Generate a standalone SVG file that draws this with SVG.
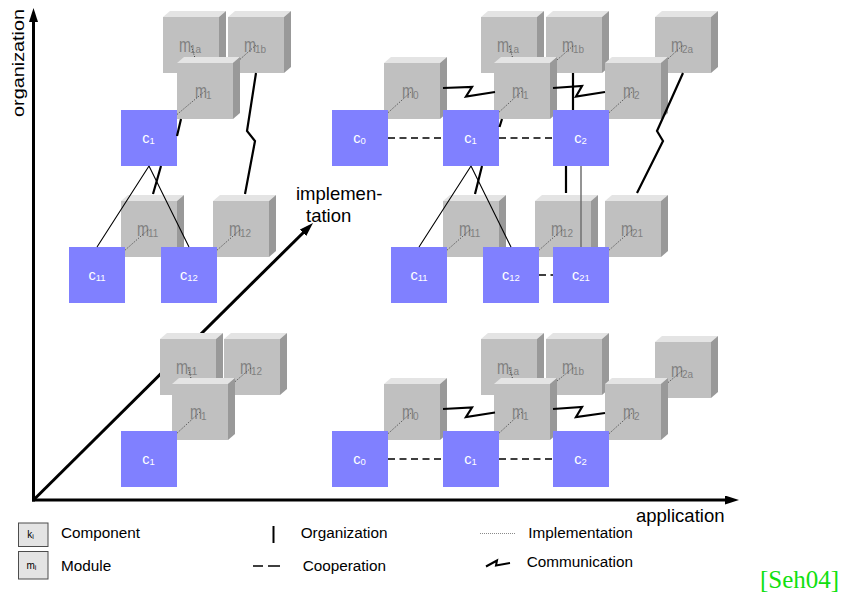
<svg xmlns="http://www.w3.org/2000/svg" xmlns:xlink="http://www.w3.org/1999/xlink" width="841" height="603" viewBox="0 0 841 603">
  <style>
    text { font-family: "Liberation Sans", Arial, Helvetica, sans-serif; }
    .front { fill: #c0c0c0; }
    .top { fill: #e4e4e4; }
    .side { fill: #999999; }
    .comp { fill: #8080ff; }
    .ml { font-size: 14.5px; fill: #808080; }
    .ms { font-size: 10px; fill: #808080; }
    .cl { font-size: 14.5px; fill: #ffffff; }
    .cs { font-size: 9.5px; }
    .axis { stroke: #000; stroke-width: 3; fill: none; }
    .impl { stroke: #404040; stroke-width: 1; stroke-dasharray: 1 1.5; fill: none; }
    .org { stroke: #000; stroke-width: 1.1; fill: none; }
    .org-grey { stroke: #707070; stroke-width: 1.5; fill: none; }
    .coop { stroke: #000; stroke-width: 1.3; stroke-dasharray: 7 4.5; fill: none; }
    .comm { stroke: #000; stroke-width: 2.2; fill: none; stroke-linejoin: miter; stroke-miterlimit: 12; }
    .big { font-size: 18.5px; fill: #000; }
    .leg { font-size: 15.3px; fill: #000; }
    .legbox { fill: #e4e4e4; stroke: #4d4d4d; stroke-width: 1; }
  </style>
  <defs>
    <!-- module cube: front face 56x56 with top and side faces -->
    <g id="cube">
      <polygon class="top" points="0,0 7,-6 63,-6 56,0"/>
      <polygon class="side" points="56,0 63,-6 63,50 56,56"/>
      <rect class="front" width="56" height="56"/>
    </g>
    <!-- component square -->
    <rect id="comp" class="comp" width="56" height="56"/>
    <marker id="arrow" markerUnits="userSpaceOnUse" markerWidth="14" markerHeight="9" refX="3" refY="4.5" orient="auto">
      <path d="M0,0 L14,4.5 L0,9 z" fill="#000"/>
    </marker>
  </defs>

  <rect width="841" height="603" fill="#fff"/>

  <!-- axes -->
  <g id="axes">
    <path class="axis" d="M33.5,501.5 V19" marker-end="url(#arrow)"/>
    <path class="axis" d="M32,500 H728" marker-end="url(#arrow)"/>
    <path class="axis" d="M33.5,500 L305.2,230.7" marker-end="url(#arrow)"/>
    <text transform="translate(24,117) rotate(-90) scale(1.24,1)" style="font-size:16px">organization</text>
    <text class="big" x="296" y="200">implemen-</text>
    <text class="big" x="306" y="222">tation</text>
    <text class="big" x="636" y="522">application</text>
  </g>

  <!-- ===== top left: c1 with children c11, c12 ===== -->
  <g id="tl-m1a" transform="translate(163,17)"><use href="#cube"/><text class="ml" transform="translate(16,35.3) scale(1,1.45)">m</text><text class="ms" x="27" y="36">1a</text></g>
  <g id="tl-m1b" transform="translate(228,17)"><use href="#cube"/><text class="ml" transform="translate(16,35.3) scale(1,1.45)">m</text><text class="ms" x="27" y="36">1b</text></g>
  <g id="tl-m1" transform="translate(177,63)"><use href="#cube"/><text class="ml" transform="translate(18,35.3) scale(1,1.45)">m</text><text class="ms" x="29" y="36">1</text></g>
  <g id="tl-c1" transform="translate(121,110)"><use href="#comp"/><text class="cl" x="27.5" y="32.7" text-anchor="middle">c<tspan class="cs" dy="1.6">1</tspan></text></g>
  <g id="tl-m11" transform="translate(121,201)"><use href="#cube"/><text class="ml" transform="translate(16,35.3) scale(1,1.45)">m</text><text class="ms" x="27" y="36">11</text></g>
  <g id="tl-m12" transform="translate(213,201)"><use href="#cube"/><text class="ml" transform="translate(16,35.3) scale(1,1.45)">m</text><text class="ms" x="27" y="36">12</text></g>
  <g id="tl-c11" transform="translate(69,247)"><use href="#comp"/><text class="cl" x="28" y="32.7" text-anchor="middle">c<tspan class="cs" dy="1.6">11</tspan></text></g>
  <g id="tl-c12" transform="translate(161,247)"><use href="#comp"/><text class="cl" x="28" y="32.7" text-anchor="middle">c<tspan class="cs" dy="1.6">12</tspan></text></g>

  <!-- ===== top right: c0, c1, c2 with children ===== -->
  <g id="tr-m1a" transform="translate(481,17)"><use href="#cube"/><text class="ml" transform="translate(16,35.3) scale(1,1.45)">m</text><text class="ms" x="27" y="36">1a</text></g>
  <g id="tr-m1b" transform="translate(546,17)"><use href="#cube"/><text class="ml" transform="translate(16,35.3) scale(1,1.45)">m</text><text class="ms" x="27" y="36">1b</text></g>
  <g id="tr-m2a" transform="translate(655,17)"><use href="#cube"/><text class="ml" transform="translate(16,35.3) scale(1,1.45)">m</text><text class="ms" x="27" y="36">2a</text></g>
  <g id="tr-m0" transform="translate(384,63)"><use href="#cube"/><text class="ml" transform="translate(18,35.3) scale(1,1.45)">m</text><text class="ms" x="29" y="36">0</text></g>
  <g id="tr-m1" transform="translate(494,63)"><use href="#cube"/><text class="ml" transform="translate(18,35.3) scale(1,1.45)">m</text><text class="ms" x="29" y="36">1</text></g>
  <g id="tr-m2" transform="translate(605,63)"><use href="#cube"/><text class="ml" transform="translate(18,35.3) scale(1,1.45)">m</text><text class="ms" x="29" y="36">2</text></g>
  <g id="tr-c0" transform="translate(332,110)"><use href="#comp"/><text class="cl" x="27.5" y="32.7" text-anchor="middle">c<tspan class="cs" dy="1.6">0</tspan></text></g>
  <g id="tr-c1" transform="translate(443,110)"><use href="#comp"/><text class="cl" x="27.5" y="32.7" text-anchor="middle">c<tspan class="cs" dy="1.6">1</tspan></text></g>
  <g id="tr-c2" transform="translate(553,110)"><use href="#comp"/><text class="cl" x="27.5" y="32.7" text-anchor="middle">c<tspan class="cs" dy="1.6">2</tspan></text></g>
  <g id="tr-m11" transform="translate(443,201)"><use href="#cube"/><text class="ml" transform="translate(16,35.3) scale(1,1.45)">m</text><text class="ms" x="27" y="36">11</text></g>
  <g id="tr-m12" transform="translate(535,201)"><use href="#cube"/><text class="ml" transform="translate(16,35.3) scale(1,1.45)">m</text><text class="ms" x="27" y="36">12</text></g>
  <g id="tr-m21" transform="translate(605,201)"><use href="#cube"/><text class="ml" transform="translate(16,35.3) scale(1,1.45)">m</text><text class="ms" x="27" y="36">21</text></g>
  <g id="tr-c11" transform="translate(391,247)"><use href="#comp"/><text class="cl" x="28" y="32.7" text-anchor="middle">c<tspan class="cs" dy="1.6">11</tspan></text></g>
  <g id="tr-c12" transform="translate(483,247)"><use href="#comp"/><text class="cl" x="28" y="32.7" text-anchor="middle">c<tspan class="cs" dy="1.6">12</tspan></text></g>
  <g id="tr-c21" transform="translate(553,247)"><use href="#comp"/><text class="cl" x="28" y="32.7" text-anchor="middle">c<tspan class="cs" dy="1.6">21</tspan></text></g>

  <!-- ===== bottom left: single component c1 ===== -->
  <g id="bl-m11" transform="translate(160,339)"><use href="#cube"/><text class="ml" transform="translate(16,35.3) scale(1,1.45)">m</text><text class="ms" x="27" y="36">11</text></g>
  <g id="bl-m12" transform="translate(224,339)"><use href="#cube"/><text class="ml" transform="translate(16,35.3) scale(1,1.45)">m</text><text class="ms" x="27" y="36">12</text></g>
  <g id="bl-m1" transform="translate(172,384)"><use href="#cube"/><text class="ml" transform="translate(18,35.3) scale(1,1.45)">m</text><text class="ms" x="29" y="36">1</text></g>
  <g id="bl-c1" transform="translate(121,431)"><use href="#comp"/><text class="cl" x="27.5" y="32.7" text-anchor="middle">c<tspan class="cs" dy="1.6">1</tspan></text></g>

  <!-- ===== bottom right: c0, c1, c2 ===== -->
  <g id="br-m1a" transform="translate(481,339)"><use href="#cube"/><text class="ml" transform="translate(16,35.3) scale(1,1.45)">m</text><text class="ms" x="27" y="36">1a</text></g>
  <g id="br-m1b" transform="translate(546,339)"><use href="#cube"/><text class="ml" transform="translate(16,35.3) scale(1,1.45)">m</text><text class="ms" x="27" y="36">1b</text></g>
  <g id="br-m2a" transform="translate(655,342)"><use href="#cube"/><text class="ml" transform="translate(16,35.3) scale(1,1.45)">m</text><text class="ms" x="27" y="36">2a</text></g>
  <g id="br-m0" transform="translate(384,384)"><use href="#cube"/><text class="ml" transform="translate(18,35.3) scale(1,1.45)">m</text><text class="ms" x="29" y="36">0</text></g>
  <g id="br-m1" transform="translate(494,384)"><use href="#cube"/><text class="ml" transform="translate(18,35.3) scale(1,1.45)">m</text><text class="ms" x="29" y="36">1</text></g>
  <g id="br-m2" transform="translate(605,384)"><use href="#cube"/><text class="ml" transform="translate(18,35.3) scale(1,1.45)">m</text><text class="ms" x="29" y="36">2</text></g>
  <g id="br-c0" transform="translate(332,431)"><use href="#comp"/><text class="cl" x="27.5" y="32.7" text-anchor="middle">c<tspan class="cs" dy="1.6">0</tspan></text></g>
  <g id="br-c1" transform="translate(443,431)"><use href="#comp"/><text class="cl" x="27.5" y="32.7" text-anchor="middle">c<tspan class="cs" dy="1.6">1</tspan></text></g>
  <g id="br-c2" transform="translate(553,431)"><use href="#comp"/><text class="cl" x="27.5" y="32.7" text-anchor="middle">c<tspan class="cs" dy="1.6">2</tspan></text></g>

  <!-- connectors: only the visible stretches are drawn where a node lies in front -->
  <g id="connectors">
    <!-- implementation (dotted) -->
    <path class="impl" d="M194.7,57 L191,45 M240,59.4 L256,45 M177,114.5 L205,91 M125,250.2 L149,229 M217,250.2 L241,229"/>
    <path class="impl" d="M388,112.7 L412,91 M499,112.2 L522,91 M609,112.7 L633,91 M512.4,57 L509,45 M557,60 L574,45 M668,58.8 L683,45 M447,250.2 L471,229 M539,250.2 L563,229 M609,250.2 L633,229"/>
    <path class="impl" d="M177,433.2 L200,412 M190.9,378 L188,367 M235,381.7 L252,367"/>
    <path class="impl" d="M388,433.7 L412,412 M499,433.2 L522,412 M609,433.7 L633,412 M512.4,378 L509,367 M557,381 L574,367 M668,382.6 L683,370"/>
    <!-- organization -->
    <path class="org" d="M149,166 L97,247 M149,166 L189,247"/>
    <path class="org" d="M471,166 L419,247 M471,166 L511,247"/>
    <path class="org-grey" d="M581,166 V247"/>
    <!-- cooperation -->
    <path class="coop" d="M388,138 H443 M499,138 H553 M539,275 H553"/>
    <path class="coop" d="M388,459 H443 M499,459 H553"/>
    <!-- communication -->
    <path class="comm" d="M181,119 L177,136 M161,166 L153,194"/>
    <path class="comm" d="M256,73 L247,131 L255,141 L245,194"/>
    <path class="comm" d="M443,88 L472,87 L466,96.5 L495,92"/>
    <path class="comm" d="M553,88 L582,86 L576,96.5 L605,92"/>
    <path class="comm" d="M502,119 L499.5,127 M482,166 L475,194"/>
    <path class="comm" d="M573,73 V110 M566,166 V193"/>
    <path class="comm" d="M683,73 L657,131 L663,141 L637,193"/>
    <path class="comm" d="M443,409 L472,407.5 L466,417 L495,412.5"/>
    <path class="comm" d="M553,409 L582,407 L576,417 L605,413"/>
  </g>

  <!-- legend -->
  <g id="legend">
    <rect class="legbox" x="18.5" y="523" width="29.5" height="23.5"/>
    <text x="27.3" y="537.7" style="font-size:10px">k<tspan style="font-size:7px" dy="1">i</tspan></text>
    <text class="leg" x="61" y="537.5">Component</text>
    <rect class="legbox" x="18.5" y="551.5" width="29.5" height="27.5"/>
    <text x="26.5" y="568.5" style="font-size:10px">m<tspan style="font-size:7px" dy="1">i</tspan></text>
    <text class="leg" x="61" y="570.5">Module</text>
    <path d="M273.5,526 V543" stroke="#000" stroke-width="2"/>
    <text class="leg" x="300.7" y="537.5">Organization</text>
    <path d="M253,566 H263 M268,566 H280" stroke="#000" stroke-width="1.5"/>
    <text class="leg" x="302.7" y="570.5">Cooperation</text>
    <path d="M480,533.5 H515" stroke="#8a8a8a" stroke-width="1" stroke-dasharray="1 1"/>
    <text class="leg" x="528.3" y="537.7">Implementation</text>
    <path d="M486,566.5 L497,560.5 L496,565.5 L510,563" stroke="#000" stroke-width="2" fill="none" stroke-linejoin="miter"/>
    <text class="leg" x="526.7" y="567.2">Communication</text>
  </g>

  <text x="760" y="588" style="font-family:'Liberation Serif','Times New Roman',serif;font-size:25px" fill="#10e010">[Seh04]</text>
</svg>
